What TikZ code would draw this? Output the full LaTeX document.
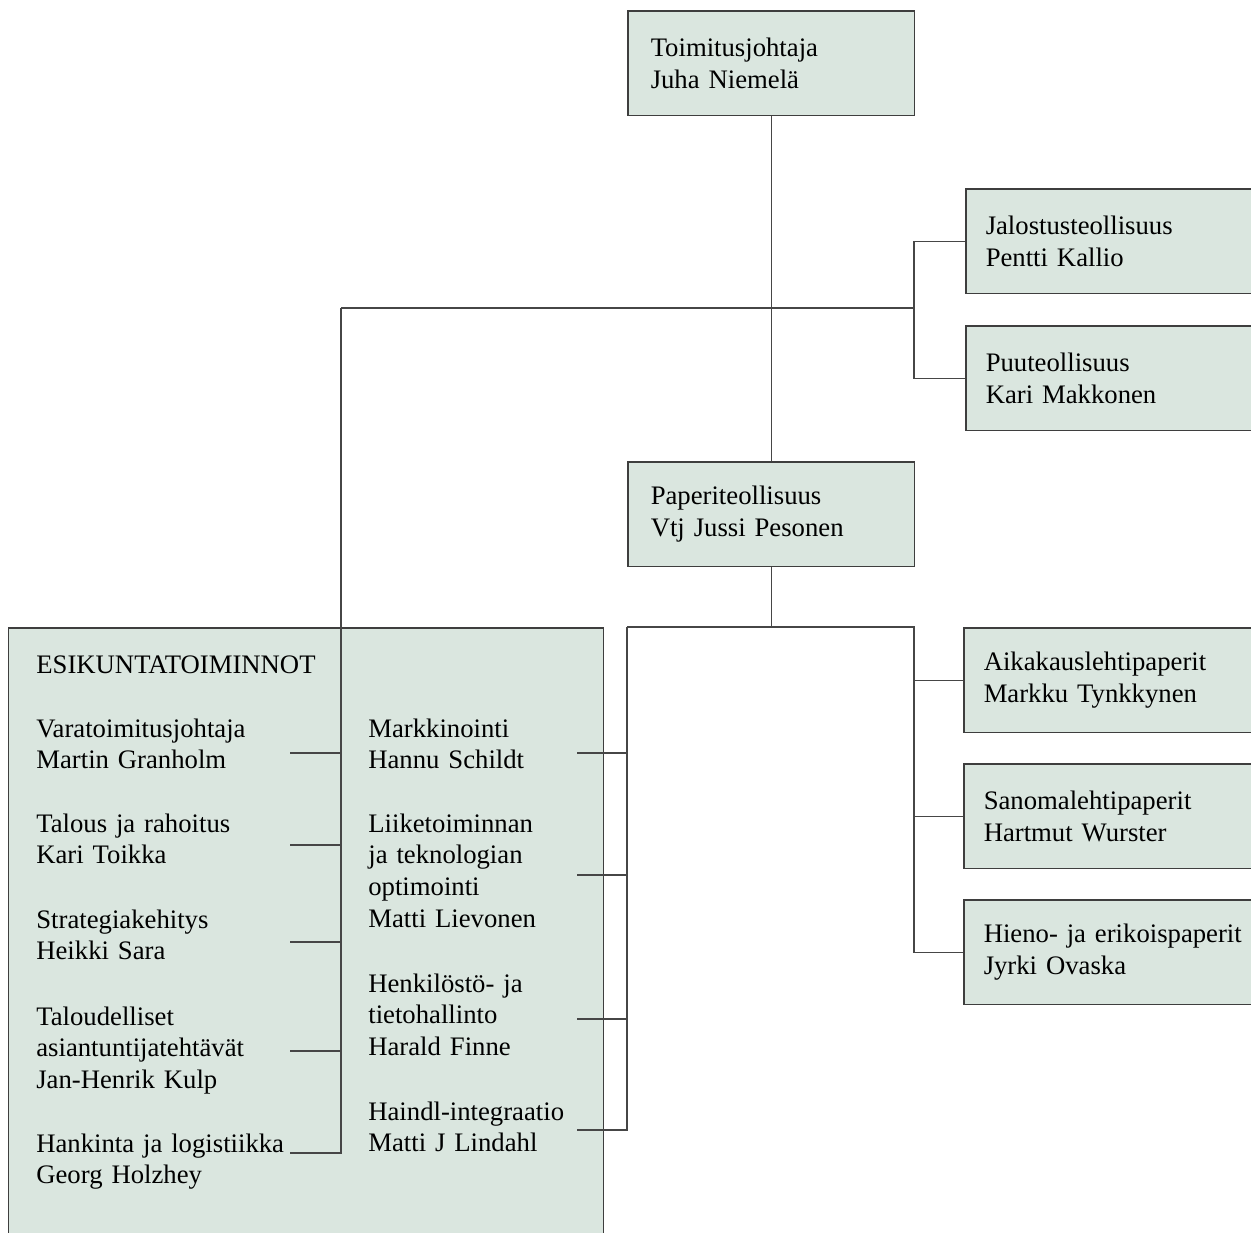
\documentclass[tikz,border=0pt]{standalone}
\usepackage{fontspec}
\setmainfont{Liberation Serif}
\usetikzlibrary{positioning}

\definecolor{boxfill}{RGB}{218,230,223}
\definecolor{boxline}{RGB}{62,62,62}
\definecolor{linegray}{RGB}{70,70,70}
\newcommand{\orgfont}{\fontsize{15.2}{18.2}\selectfont}

\tikzset{
  orgbox/.style={draw=boxline, fill=boxfill, line width=0.85pt, anchor=north west,
    minimum height=2.1cm, inner xsep=0.46cm, text width=4.82cm, align=left, font=\orgfont},
  sidebox/.style={orgbox, inner xsep=0.40cm, text width=5.2cm},
  entry/.style={anchor=base west, inner sep=0pt, text width=5.2cm, align=left, font=\orgfont},
  link/.style={linegray, line width=0.75pt}
}

\begin{document}
\begin{tikzpicture}[x=0.02cm, y=-0.02cm]
\useasboundingbox (0,0) rectangle (1251,1232);
\clip (0,0) rectangle (1251,1232);

% Boxes
\node[orgbox] (ceo) at (627,10) {Toimitusjohtaja\\Juha Niemelä};
\node[sidebox] (jalo) at (965,188) {Jalostusteollisuus\\Pentti Kallio};
\node[sidebox] (puu) at (965,325) {Puuteollisuus\\Kari Makkonen};
\node[orgbox] (paperi) at (627,461) {Paperiteollisuus\\Vtj Jussi Pesonen};
\node[sidebox] (aika) at (963,627) {Aikakauslehtipaperit\\Markku Tynkkynen};
\node[sidebox] (sanoma) at (963,763) {Sanomalehtipaperit\\Hartmut Wurster};
\node[sidebox] (hieno) at (963,899) {Hieno- ja erikoispaperit\\Jyrki Ovaska};

% Staff box (runs off the page)
\node[draw=boxline, fill=boxfill, line width=0.85pt, anchor=north west,
  minimum width=11.9cm, minimum height=13.4cm] (esik) at (8,627) {};

% Staff entries, left column
\node[entry] (otsikko) at (36,673) {ESIKUNTATOIMINNOT};
\node[entry] (vara) at (36,737) {Varatoimitusjohtaja\\Martin Granholm};
\node[entry] (talous) at (36,832) {Talous ja rahoitus\\Kari Toikka};
\node[entry] (strat) at (36,928) {Strategiakehitys\\Heikki Sara};
\node[entry] (taloud) at (36,1025) {Taloudelliset\\asiantuntijatehtävät\\Jan-Henrik Kulp};
\node[entry] (hank) at (36,1152) {Hankinta ja logistiikka\\Georg Holzhey};

% Staff entries, right column
\node[entry] (markk) at (368,737) {Markkinointi\\Hannu Schildt};
\node[entry] (liike) at (368,832) {Liiketoiminnan\\ja teknologian\\optimointi\\Matti Lievonen};
\node[entry] (henk) at (368,992) {Henkilöstö- ja\\tietohallinto\\Harald Finne};
\node[entry] (haindl) at (368,1120) {Haindl-integraatio\\Matti J Lindahl};

% Top level lines
\coordinate (hubL) at (341,308);
\coordinate (hubR) at (914,308);
\draw[link] (ceo.south) -- (paperi.north);
\draw[link] (hubL) -- (hubR);
\draw[link] (jalo.west) -- (jalo.west -| hubR) -- (puu.west -| hubR) -- (puu.west);

% Paper division lines
\coordinate (busL) at (627,627);
\coordinate (busR) at (914,627);
\draw[link] (paperi.south) -- (paperi.south |- busL);
\draw[link] (busL) -- (busR) |- (hieno.west);
\draw[link] (aika.west -| busR) -- (aika.west);
\draw[link] (sanoma.west -| busR) -- (sanoma.west);

% Staff bus, left
\coordinate (s-hank) at (290,1153);
\draw[link] (hubL) -- (hubL |- s-hank) -- (s-hank);
\foreach \y/\n in {753/vara,845/talous,942/strat,1051/taloud}{
  \coordinate (s-\n) at (290,\y);
  \draw[link] (s-\n) -- (s-\n -| hubL);
}

% Staff bus, right
\coordinate (s-haindl) at (577,1130);
\draw[link] (busL) -- (busL |- s-haindl) -- (s-haindl);
\foreach \y/\n in {753/markk,875/liike,1019/henk}{
  \coordinate (s-\n) at (577,\y);
  \draw[link] (s-\n) -- (s-\n -| busL);
}

\end{tikzpicture}
\end{document}
